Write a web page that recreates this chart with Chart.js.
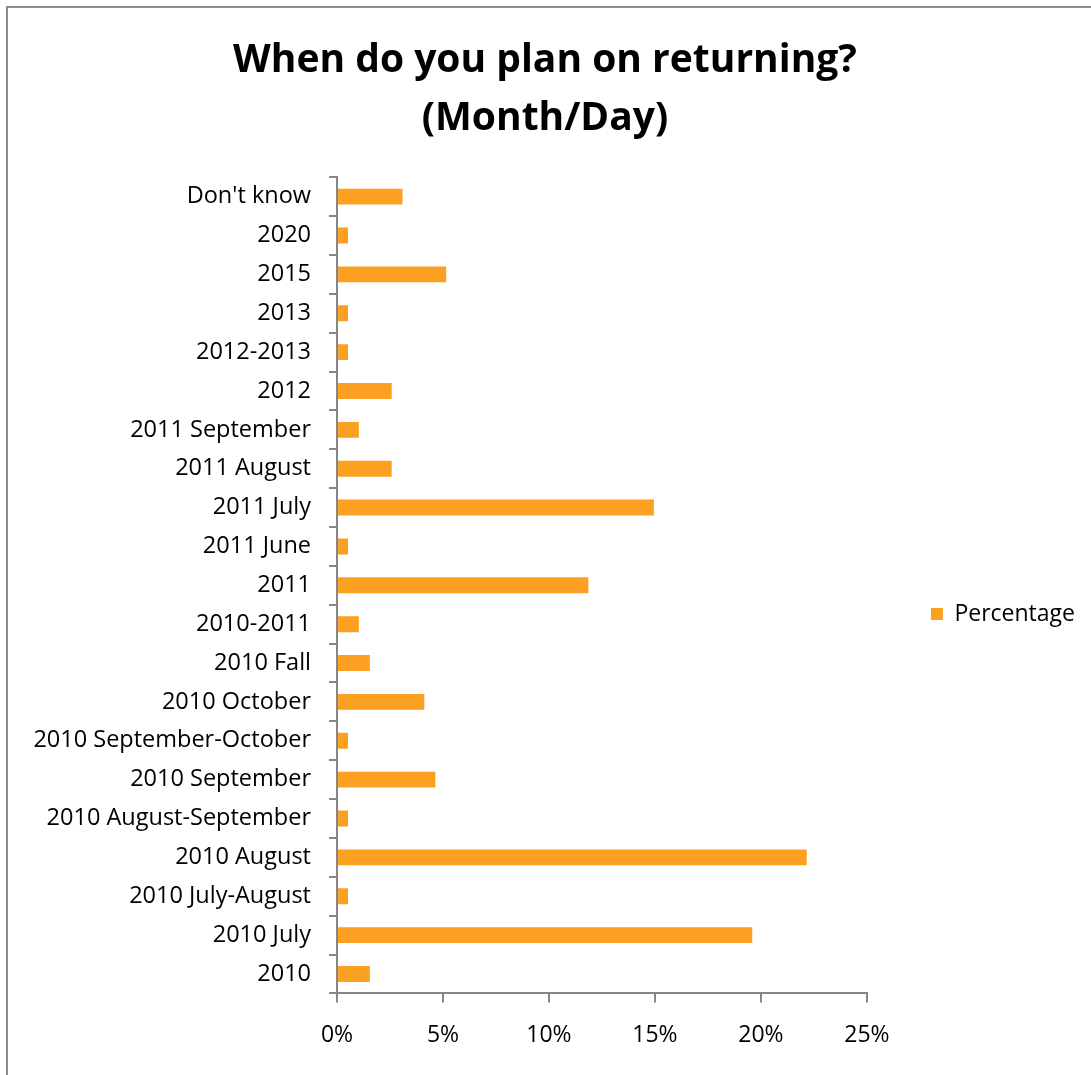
<!DOCTYPE html>
<html>
<head>
<meta charset="utf-8">
<script src="https://cdn.jsdelivr.net/npm/chart.js@4"></script>
<style>
  html, body { margin: 0; padding: 0; background: #fff; overflow: hidden; }
  #frame {
    position: absolute; left: 6px; top: 6px; width: 1200px; height: 1200px;
    border-left: 2px solid #8c8c8c; border-top: 2px solid #8c8c8c;
  }
  #wrap { position: absolute; left: 0; top: 0; width: 1091px; height: 1075px; }
</style>
</head>
<body>
<div id="frame"></div>
<div id="wrap"><canvas id="chart" width="1091" height="1075"></canvas></div>
<script>
// Return dates given by respondents, listed top to bottom
const categories = [
  "Don't know", "2020", "2015", "2013", "2012-2013", "2012",
  "2011 September", "2011 August", "2011 July", "2011 June", "2011",
  "2010-2011", "2010 Fall", "2010 October", "2010 September-October",
  "2010 September", "2010 August-September", "2010 August",
  "2010 July-August", "2010 July", "2010"
];
// Share of respondents, in percent
const percentage = [
  3.09, 0.52, 5.15, 0.52, 0.52, 2.58,
  1.03, 2.58, 14.95, 0.52, 11.86,
  1.03, 1.55, 4.12, 0.52,
  4.64, 0.52, 22.16,
  0.52, 19.59, 1.55
];
const xTicks = [0, 5, 10, 15, 20, 25];
const titleLines = ["When do you plan on returning?", "(Month/Day)"];
const seriesName = "Percentage";

const FONT = "'Open Sans', 'Liberation Sans', sans-serif";
const AXIS = "#868686";
const ORANGE = "#FBA021";

// Shifts the title and legend boxes after layout, leaving the plot area as laid out
const boxOffset = {
  id: "boxOffset",
  afterLayout(chart, args, opts) {
    const shift = (box, o) => {
      if (!box || !o) return;
      box.left += o.dx || 0; box.right += o.dx || 0;
      box.top += o.dy || 0; box.bottom += o.dy || 0;
    };
    shift(chart.titleBlock, opts.title);
    shift(chart.legend, opts.legend);
  }
};

new Chart(document.getElementById("chart"), {
  type: "bar",
  data: {
    labels: categories,
    datasets: [{
      label: seriesName,
      data: percentage,
      backgroundColor: ORANGE,
      borderWidth: 0,
      barPercentage: 0.41,
      categoryPercentage: 1.0
    }]
  },
  plugins: [boxOffset],
  options: {
    indexAxis: "y",
    responsive: false,
    animation: false,
    layout: { padding: { left: 27, right: 60, top: 0, bottom: 7 } },
    plugins: {
      title: {
        display: true,
        text: titleLines,
        color: "#000",
        font: { family: FONT, size: 39, weight: "bold", lineHeight: 1.49 },
        padding: { top: 32, bottom: 29 }
      },
      legend: {
        position: "right",
        labels: {
          color: "#000",
          font: { family: FONT, size: 23 },
          boxWidth: 12, boxHeight: 12,
          padding: 10
        }
      },
      boxOffset: { title: { dx: 16, dy: 0 }, legend: { dx: 54, dy: 80 } },
      tooltip: { enabled: false }
    },
    scales: {
      x: {
        min: 0, max: 25,
        afterBuildTicks: (axis) => { axis.ticks = xTicks.map(v => ({ value: v })); },
        ticks: {
          color: "#000",
          font: { family: FONT, size: 23 },
          padding: 19,
          callback: (v) => v + "%"
        },
        grid: { drawOnChartArea: false, color: AXIS, lineWidth: 2, tickLength: 9 },
        border: { color: AXIS, width: 2 }
      },
      y: {
        afterFit: (scale) => { scale.width = 310; },
        ticks: {
          color: "#000",
          font: { family: FONT, size: 23.5 },
          padding: 18
        },
        grid: { drawOnChartArea: false, color: AXIS, lineWidth: 2, tickLength: 8, offset: true },
        border: { color: AXIS, width: 2 }
      }
    }
  }
});
</script>
</body>
</html>
